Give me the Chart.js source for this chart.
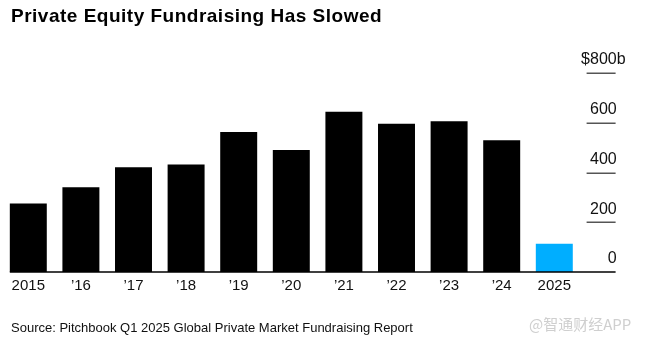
<!DOCTYPE html>
<html>
<head>
<meta charset="utf-8">
<script src="https://cdn.jsdelivr.net/npm/chart.js@4"></script>
<style>
  body { margin: 0; background: #fff; }
  #wrap { position: relative; width: 645px; height: 343px; font-family: 'Liberation Sans', Arial, sans-serif; }
  #chart { position: absolute; left: 0; top: 0; }
  .title { position: absolute; left: 11px; top: 6px; font-size: 19px; line-height: 19px; font-weight: bold; letter-spacing: 0.5px; color: #000; white-space: nowrap; }
  .source { position: absolute; left: 11px; top: 321px; font-size: 13px; line-height: 13px; color: #111; white-space: nowrap; }
  .mark { position: absolute; left: 529px; top: 316px; font-size: 15px; line-height: 15px; color: #cfcfcf; white-space: nowrap; font-family: 'Noto Sans CJK SC', sans-serif; }
</style>
</head>
<body>
<div id="wrap">
  <canvas id="chart" width="645" height="343"></canvas>
  <div class="title">Private Equity Fundraising Has Slowed</div>
  <div class="source">Source: Pitchbook Q1 2025 Global Private Market Fundraising Report</div>
  <div class="mark">@智通财经APP</div>
</div>
<script>
// data (capital raised, $ billions)
const years = ['2015', '’16', '’17', '’18', '’19', '’20', '’21', '’22', '’23', '’24', '2025'];
const raised = [275, 341, 421, 432, 563, 490, 644, 596, 606, 530, 114];
const yTicks = [0, 200, 400, 600, 800];
const yTickLabels = ['0', '200', '400', '600', '$800b'];

const barColors = years.map((y, i) => i === years.length - 1 ? '#00AEFF' : '#000000');

// short dashes under the y labels + the baseline
const axisMarks = {
    id: 'axisMarks',
    afterDatasetsDraw(chart) {
        const ctx = chart.ctx;
        const area = chart.chartArea;
        const yScale = chart.scales.y;
        ctx.save();
        ctx.strokeStyle = '#555';
        ctx.lineWidth = 1.5;
        yScale.ticks.forEach(t => {
            if (t.value === 0) return;
            const y = Math.round(yScale.getPixelForValue(t.value)) + 0.25;
            ctx.beginPath();
            ctx.moveTo(area.right + 6, y);
            ctx.lineTo(area.right + 35, y);
            ctx.stroke();
        });
        // baseline
        const first = chart.getDatasetMeta(0).data[0];
        const y0 = yScale.getPixelForValue(0);
        ctx.strokeStyle = '#000';
        ctx.beginPath();
        ctx.moveTo(first.x - first.width / 2, y0);
        ctx.lineTo(area.right + 35, y0);
        ctx.stroke();
        ctx.restore();
    }
};

const ctx = document.getElementById('chart').getContext('2d');
const fundChart = new Chart(ctx, {
    type: 'bar',
    data: {
        labels: years,
        datasets: [{
            data: raised,
            backgroundColor: barColors,
            borderWidth: 0,
            categoryPercentage: 1,
            barPercentage: 0.703
        }]
    },
    options: {
        responsive: false,
        animation: false,
        layout: {
            padding: { left: 2, right: 19.4, top: 73, bottom: 41 }
        },
        plugins: {
            legend: { display: false },
            tooltip: { enabled: false }
        },
        scales: {
            x: {
                grid: { display: false, drawTicks: false },
                border: { display: false },
                ticks: {
                    color: '#111',
                    padding: 5,
                    maxRotation: 0,
                    font: { family: 'Liberation Sans, Arial, sans-serif', size: 15 }
                },
                afterFit(scale) { scale.height = 30; }
            },
            y: {
                position: 'right',
                min: 0,
                max: 800,
                grid: { display: false, drawTicks: false },
                border: { display: false },
                afterBuildTicks(scale) {
                    scale.ticks = yTicks.map(v => ({ value: v }));
                },
                ticks: {
                    color: '#111',
                    padding: 0,
                    crossAlign: 'far',
                    labelOffset: -13,
                    font: { family: 'Liberation Sans, Arial, sans-serif', size: 16 },
                    callback: function (value) {
                        const label = yTickLabels[yTicks.indexOf(value)];
                        return value === 800 ? label : label + '\u2007';
                    }
                },
                afterFit(scale) { scale.width = 45; }
            }
        }
    },
    plugins: [axisMarks]
});
</script>
</body>
</html>
